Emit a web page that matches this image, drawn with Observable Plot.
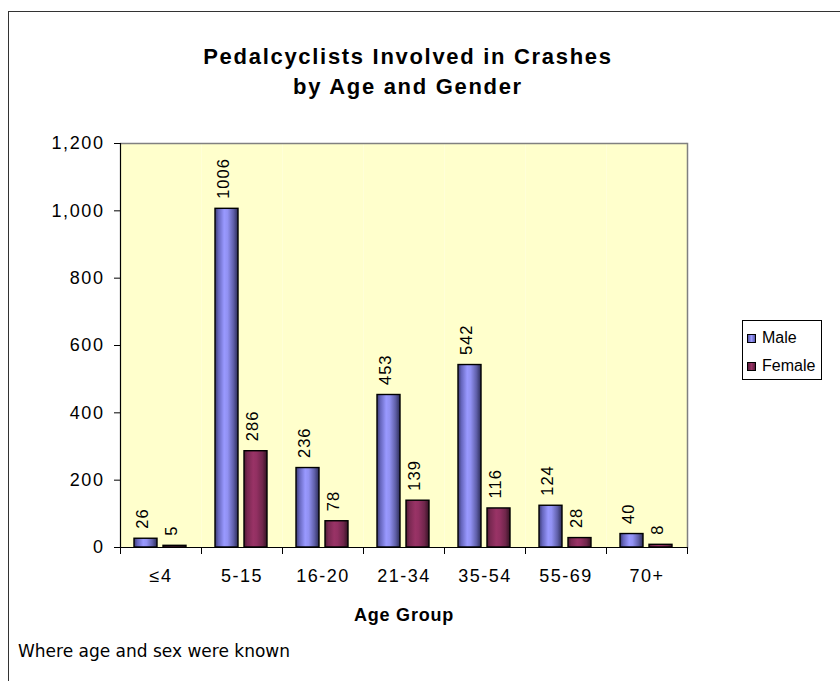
<!DOCTYPE html>
<html>
<head>
<meta charset="utf-8">
<script src="https://cdn.jsdelivr.net/npm/d3@7"></script>
<script src="https://cdn.jsdelivr.net/npm/@observablehq/plot@0.6"></script>
<style>
  html, body { margin: 0; padding: 0; background: #fff; }
  #wrap { position: relative; width: 840px; height: 681px; overflow: hidden; font-family: "Liberation Sans", Arial, sans-serif; }
  #border { position: absolute; left: 8px; top: 11px; width: 900px; height: 800px; border: 1.5px solid #333; box-sizing: border-box; }
  #title { position: absolute; left: 158px; width: 500px; top: 42px; text-align: center; font-weight: bold; font-size: 22px; line-height: 30px; letter-spacing: 1.7px; color: #000; }
  #chart { position: absolute; left: 0; top: 0; }
  #legend { position: absolute; left: 742px; top: 320px; width: 80px; height: 60px; border: 1px solid #000; box-sizing: border-box; background: #fff; font-size: 16px; }
  .li { position: absolute; left: 4px; display: flex; align-items: center; }
  .sw { width: 9px; height: 9px; border: 1px solid #000; box-sizing: border-box; margin-right: 6px; }
  #caption { position: absolute; left: 18px; top: 641px; font-family: "DejaVu Sans", sans-serif; font-size: 17px; color: #000; }
  #chart text { letter-spacing: 1px; }
  #chart [aria-label="y-axis tick label"] text { letter-spacing: 1.6px; }
  #chart [aria-label="fx-axis tick label"] text { letter-spacing: 1.5px; }
  #chart [aria-label="fx-axis label"] text { font-weight: bold; letter-spacing: 0.8px; }
</style>
</head>
<body>
<svg width="0" height="0" style="position:absolute">
  <defs>
    <linearGradient id="gMale" x1="0" x2="1" y1="0" y2="0">
      <stop offset="0" stop-color="#3a3a72"/>
      <stop offset="0.15" stop-color="#6666bd"/>
      <stop offset="0.4" stop-color="#9999ff"/>
      <stop offset="0.55" stop-color="#9191f2"/>
      <stop offset="0.8" stop-color="#6060aa"/>
      <stop offset="1" stop-color="#2c2c58"/>
    </linearGradient>
    <linearGradient id="gFemale" x1="0" x2="1" y1="0" y2="0">
      <stop offset="0" stop-color="#4e1a34"/>
      <stop offset="0.15" stop-color="#7a2952"/>
      <stop offset="0.4" stop-color="#993366"/>
      <stop offset="0.55" stop-color="#923062"/>
      <stop offset="0.8" stop-color="#70264b"/>
      <stop offset="1" stop-color="#361224"/>
    </linearGradient>
  </defs>
</svg>
<div id="wrap">
  <div id="border"></div>
  <div id="title">Pedalcyclists Involved in Crashes<br>by Age and Gender</div>
  <div id="chart"></div>
  <div id="legend">
    <div class="li" style="top:8px"><div class="sw" style="background:linear-gradient(90deg,#5a5aa8,#9999ff,#5a5aa8)"></div><span>Male</span></div>
    <div class="li" style="top:36px"><div class="sw" style="background:linear-gradient(90deg,#5a1e3c,#993366,#5a1e3c)"></div><span>Female</span></div>
  </div>
  <div id="caption">Where age and sex were known</div>
</div>
<script>
const categories = ["≤4", "5-15", "16-20", "21-34", "35-54", "55-69", "70+"];
const maleValues = [26, 1006, 236, 453, 542, 124, 40];
const femaleValues = [5, 286, 78, 139, 116, 28, 8];
const genders = ["Male", "Female"];
const yTicks = [0, 200, 400, 600, 800, 1000, 1200];

const data = categories.flatMap((c, i) => [
  {age: c, gender: "Male", value: maleValues[i]},
  {age: c, gender: "Female", value: femaleValues[i]}
]);

const W = 840, H = 630, mL = 118, mT = 143, mR = 151, mB = 83;
const innerH = H - mT - mB;

const chart = Plot.plot({
  width: W, height: H,
  marginLeft: mL, marginTop: mT, marginRight: mR, marginBottom: mB,
  style: {fontFamily: "'Liberation Sans', Arial, sans-serif", fontSize: "17px", background: "transparent", overflow: "visible", color: "#000"},
  fx: {domain: categories, padding: 0, label: null},
  x: {domain: genders, paddingInner: 0.2, paddingOuter: 0.46, axis: null},
  y: {domain: [0, 1200], axis: null},
  color: {domain: genders, range: ["url(#gMale)", "url(#gFemale)"]},
  marks: [
    Plot.frame({fill: "#FFFFCC", stroke: "none"}),
    Plot.ruleY([1200], {stroke: "#808080", strokeWidth: 1.5}),
    Plot.frame({anchor: "right", stroke: "#808080", strokeWidth: 1.5, facetAnchor: "right"}),
    Plot.barY(data, {fx: "age", x: "gender", y: "value", fill: "gender", stroke: "#000", strokeWidth: 1.4}),
    Plot.ruleY([0], {stroke: "#000", strokeWidth: 1.2}),
    Plot.frame({anchor: "left", stroke: "#000", strokeWidth: 1.2, facetAnchor: "left"}),
    Plot.frame({anchor: "left", stroke: "#000", insetTop: innerH, insetBottom: -6}),
    Plot.frame({anchor: "right", stroke: "#000", insetTop: innerH, insetBottom: -6, facetAnchor: "right"}),
    Plot.axisY({ticks: yTicks, tickFormat: d3.format(","), tickSize: 6, tickPadding: 10, fontSize: 18, label: null}),
    Plot.axisFx({anchor: "bottom", tickSize: 0, tickPadding: 22, fontSize: 18, label: "Age Group", labelAnchor: "center", labelOffset: 73}),
    Plot.text(data, {fx: "age", x: "gender", y: "value", text: d => String(d.value), rotate: -90, textAnchor: "start", lineAnchor: "middle", dy: -10, dx: -3, fontSize: 16.5})
  ]
});
document.getElementById("chart").appendChild(chart);
</script>
</body>
</html>
